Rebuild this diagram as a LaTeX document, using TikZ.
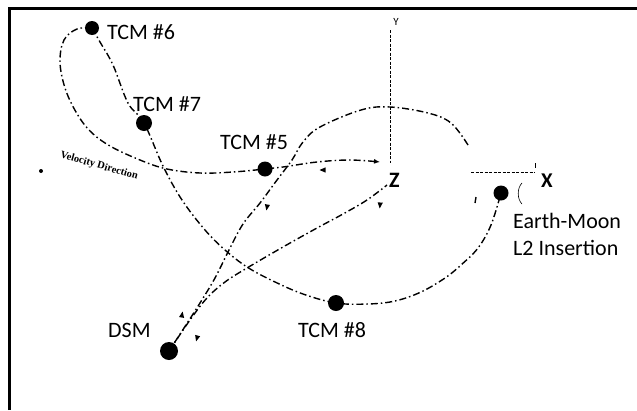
\documentclass[tikz,border=0pt]{standalone}
\usepackage{fontspec}
\usetikzlibrary{arrows.meta}
\setmainfont{Carlito}
\newfontfamily\velfont{Liberation Serif}
\begin{document}
\begin{tikzpicture}[x=1pt,y=-1pt,
  traj/.style={line width=1.4pt, dash pattern=on 7pt off 3pt on 1.5pt off 3pt},
  axisline/.style={line width=0.8pt, dash pattern=on 3pt off 1.5pt},
  dot/.style={circle, fill=black, inner sep=0pt, minimum size=#1},
  lbl/.style={inner sep=0pt, anchor=base west, font=\fontsize{22}{22}\selectfont},
  arrowmark/.pic={\fill (3.5,0) -- (-2.5,2.6) -- (-2.5,-2.6) -- cycle;}
]
\useasboundingbox (0,0) rectangle (637,410);
% frame
\draw[line width=3pt] (9,410) -- (9,8) -- (637,8);

% key points
\coordinate (p6) at (92,28);
\coordinate (p7) at (144,123);
\coordinate (p5) at (265,169);
\coordinate (p8) at (336,303);
\coordinate (pd) at (169,351);
\coordinate (pl) at (501,193);
\coordinate (pz) at (387,185);

% axes
\coordinate (ytop) at (390,30);
\coordinate (ybot) at (390,163);
\draw[axisline] (ytop) -- (ybot);
\coordinate (xl) at (471,172);
\coordinate (xr) at (535,172);
\draw[axisline] (xl) -- (xr);
\coordinate (xt1) at (535,163);
\coordinate (xt2) at (535,168);
\draw[line width=1pt] (xt1) -- (xt2);

% TCM6 -> TCM7 -> TCM8 -> L2
\draw[traj] plot[smooth, tension=0.6] coordinates {(p6) (100,42) (113,65) (128,103) (p7) (163,166) (182,200) (205,230) (225,250) (247,267) (273,281) (303,294) (p8) (368,304) (395,301) (421,292) (445,278) (461,265) (478,248) (491,225) (pl)};

% left loop from TCM6 through TCM5 to Z
\draw[traj,-{Latex[length=6pt,width=5pt]}] plot[smooth, tension=0.6] coordinates {(p6) (77,29) (64,40) (60,62) (65,88) (76,112) (90,131) (110,146) (140,160) (167,169) (200,173) (233,172) (p5) (283,167) (317,162) (350,160) (380,162)};

% halo orbit arc over Z and down through TCM5 region to DSM
\draw[traj] plot[smooth, tension=0.6] coordinates {(468,145) (451,123) (428,113) (390,107) (361,110) (320,127) (303,142) (292,160) (277,180) (260,203) (243,224) (229,250) (215,278) (200,303) (184,328) (pd)};
\coordinate (h1) at (476,197);
\coordinate (h2) at (475,203);
\draw[line width=1.4pt] (h1) -- (h2);

% DSM -> Z
\draw[traj] plot[smooth, tension=0.6] coordinates {(pd) (190,320) (207,298) (225,282) (247,268) (283,247) (317,228) (343,214) (367,200) (pz)};

% arrow marks
\pic[rotate=180] at (323,170) {arrowmark};
\pic[rotate=-100] at (267,207) {arrowmark};
\pic[rotate=-95] at (380,205) {arrowmark};
\pic[rotate=80] at (182,315) {arrowmark};
\pic[rotate=-105] at (197,338) {arrowmark};

% bracket near L2
\coordinate (b1) at (522,183);
\coordinate (b2) at (522,204);
\draw[line width=0.6pt] (b1) .. controls (517,188) and (517,199) .. (b2);

% lone dot
\node[dot=4pt] (lone) at (41,171) {};

% dots
\node[dot=14pt] (tcm6) at (p6) {};
\node[dot=16pt] (tcm7) at (p7) {};
\node[dot=15pt] (tcm5) at (p5) {};
\node[dot=16pt] (tcm8) at (p8) {};
\node[dot=18pt] (dsm) at (pd) {};
\node[dot=15pt] (l2) at (pl) {};

% labels
\node[lbl] (t6) at (107,39) {TCM \#6};
\node[lbl] (t7) at (133,111) {TCM \#7};
\node[lbl] (t5) at (220,149) {TCM \#5};
\node[lbl] (tdsm) at (108,337) {DSM};
\node[lbl] (t8) at (298,337) {TCM \#8};
\node[lbl] (tem) at (513,228) {Earth-Moon};
\node[lbl] (tl2) at (513,255) {L2 Insertion};
\node[lbl, font=\fontsize{21}{21}\selectfont\bfseries] (tx) at (541,187) {X};
\node[lbl, font=\fontsize{22}{22}\selectfont\bfseries] (tz) at (389,187) {Z};
\node[inner sep=0pt, font=\fontsize{11}{11}\selectfont] (ty) at (396,22) {Y};
\node[inner sep=0pt, rotate=-16, font=\velfont\bfseries\fontsize{10.5}{10.5}\selectfont] (vel) at (99,166) {Velocity Direction};
\end{tikzpicture}
\end{document}
